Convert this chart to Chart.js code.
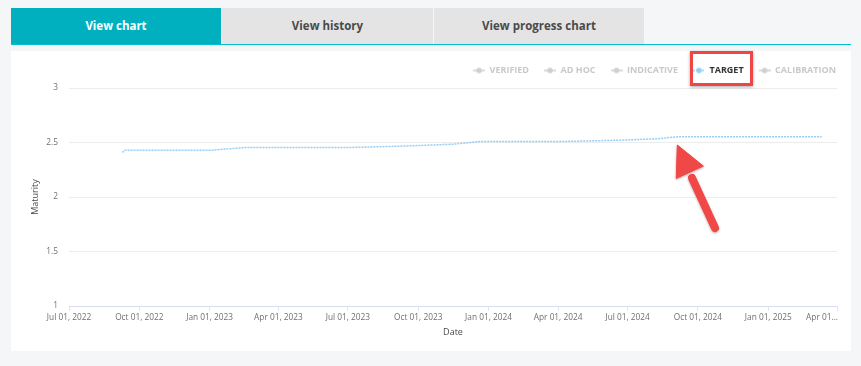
<!DOCTYPE html>
<html>
<head>
<meta charset="utf-8">
<script src="https://cdn.jsdelivr.net/npm/chart.js@4.4.1/dist/chart.umd.min.js"></script>
<style>
  html, body { margin: 0; padding: 0; }
  body { width: 861px; height: 366px; background: #f5f6f8; position: relative; overflow: hidden; font-family: "Open Sans", sans-serif; }
  .tab { position: absolute; top: 8px; height: 36px; line-height: 36px; text-align: center; font-size: 11.5px; font-weight: 700; color: #4a4a4a; background: #e4e4e4; }
  .tab.active { background: #00b0bf; color: #ffffff; }
  #underline { position: absolute; left: 11px; top: 44px; width: 840px; height: 1px; background: #00c2d2; }
  #panel { position: absolute; left: 11px; top: 51px; width: 840px; height: 300px; background: #ffffff; }
  #panel canvas { display: block; }
  #hl { position: absolute; left: 690px; top: 51px; width: 63px; height: 35px; box-sizing: border-box; border: 3px solid #ee4545; box-shadow: 0 1px 3px rgba(0,0,0,0.35); }
  #arrow { position: absolute; left: 0; top: 0; }
</style>
</head>
<body>
<div class="tab active" style="left:11px;width:210px;">View chart</div>
<div class="tab" style="left:222px;width:211px;">View history</div>
<div class="tab" style="left:434px;width:210px;">View progress chart</div>
<div id="underline"></div>
<div id="panel"><canvas id="c" width="840" height="300"></canvas></div>
<div id="hl"></div>
<svg id="arrow" width="861" height="366">
  <defs>
    <filter id="sh" x="-20%" y="-20%" width="140%" height="140%">
      <feDropShadow dx="0" dy="1" stdDeviation="1.2" flood-color="#000" flood-opacity="0.3"/>
    </filter>
  </defs>
  <g filter="url(#sh)" fill="#f04646" stroke="#f04646">
    <line x1="715" y1="228" x2="692" y2="178" stroke-width="8" stroke-linecap="round"/>
    <polygon points="677.3,145 703.4,166.1 676.2,178.5" stroke-width="1" stroke-linejoin="round"/>
  </g>
</svg>
<script>
// ---- data ----
const seriesNames = ["VERIFIED", "AD HOC", "INDICATIVE", "TARGET", "CALIBRATION"];
const verifiedValues = [];
const adHocValues = [];
const indicativeValues = [];
const calibrationValues = [];
const targetDates = ["2022-09-09", "2022-09-12", "2023-01-05", "2023-02-19", "2023-07-07", "2023-09-07",
                     "2023-11-15", "2023-12-21", "2024-04-07", "2024-06-21", "2024-08-08", "2024-09-04", "2025-03-12"];
const targetValues = [2.409, 2.430, 2.430, 2.455, 2.455, 2.466,
                      2.484, 2.509, 2.509, 2.521, 2.534, 2.552, 2.552];
const xTickDates = ["2022-07-01", "2022-10-01", "2023-01-01", "2023-04-01", "2023-07-01", "2023-10-01",
                    "2024-01-01", "2024-04-01", "2024-07-01", "2024-10-01", "2025-01-01", "2025-04-01"];
const xTickLabels = ["Jul 01, 2022", "Oct 01, 2022", "Jan 01, 2023", "Apr 01, 2023", "Jul 01, 2023", "Oct 01, 2023",
                     "Jan 01, 2024", "Apr 01, 2024", "Jul 01, 2024", "Oct 01, 2024", "Jan 01, 2025", "Apr 01..."];
const yTickValues = [1, 1.5, 2, 2.5, 3];
const yTickLabels = ["1", "1.5", "2", "2.5", "3"];

// ---- helpers ----
const origin = Date.UTC(2022, 6, 1);
function dayOf(s) { const p = s.split("-").map(Number); return (Date.UTC(p[0], p[1] - 1, p[2]) - origin) / 86400000; }
const xTickDays = xTickDates.map(dayOf);

const greyMarkerColor = "#cfcfcf";
const targetColor = "rgba(125,192,240,0.8)";

function makeMarker(lineColor, dotColor, dashed) {
  const c = document.createElement("canvas");
  c.width = 12; c.height = 8;
  const g = c.getContext("2d");
  g.strokeStyle = lineColor; g.lineWidth = 1.5;
  if (dashed) g.setLineDash([2, 1]);
  g.beginPath(); g.moveTo(0, 4); g.lineTo(12, 4); g.stroke();
  g.setLineDash([]);
  g.fillStyle = dotColor;
  g.beginPath(); g.arc(6, 4, 2.8, 0, Math.PI * 2); g.fill();
  return c;
}
const greyMarker = makeMarker(greyMarkerColor, greyMarkerColor, false);
const targetMarker = makeMarker("rgba(140,200,240,0.9)", "#92cff5", true);

const emptySeries = [verifiedValues, adHocValues, indicativeValues, null, calibrationValues];
const datasets = seriesNames.map((name, i) => {
  if (name === "TARGET") {
    return {
      label: name,
      data: targetDates.map((d, k) => ({ x: dayOf(d), y: targetValues[k] })),
      borderColor: targetColor,
      backgroundColor: targetColor,
      borderWidth: 1.5,
      borderDash: [2, 1],
      pointRadius: 0,
      tension: 0,
      fill: false
    };
  }
  return { label: name, data: emptySeries[i], hidden: true, borderColor: greyMarkerColor, pointRadius: 0 };
});

const tweaks = {
  id: "tweaks",
  afterLayout(chart) {
    if (chart.legend) { chart.legend.top -= 3; chart.legend.bottom -= 3; }
  },
  beforeDraw(chart) {
    const items = chart.scales.x.getLabelItems();
    const last = items[items.length - 1];
    if (last) {
      last.options.textAlign = "right";
      last.options.translation = [last.options.translation[0] + 1, last.options.translation[1]];
    }
  }
};

new Chart(document.getElementById("c"), {
  type: "line",
  data: { datasets },
  plugins: [tweaks],
  options: {
    responsive: false,
    animation: false,
    events: [],
    layout: { padding: { left: 0, right: 0, top: 0, bottom: 0 } },
    plugins: {
      tooltip: { enabled: false },
      legend: {
        position: "top",
        align: "end",
        labels: {
          usePointStyle: true,
          pointStyleWidth: 12,
          padding: 15,
          font: { family: "Open Sans", size: 9, weight: "bold" },
          generateLabels(chart) {
            return chart.data.datasets.map((ds, i) => ({
              text: ds.label,
              datasetIndex: i,
              hidden: false,
              lineWidth: 0,
              fillStyle: "rgba(0,0,0,0)",
              strokeStyle: "rgba(0,0,0,0)",
              pointStyle: ds.label === "TARGET" ? targetMarker : greyMarker,
              fontColor: ds.label === "TARGET" ? "#333333" : "#c9c9c9"
            }));
          }
        }
      }
    },
    scales: {
      x: {
        type: "linear",
        min: xTickDays[0],
        max: xTickDays[xTickDays.length - 1],
        afterBuildTicks(scale) { scale.ticks = xTickDays.map(v => ({ value: v })); },
        afterFit(scale) { scale.height = 45; scale.paddingRight = 14; },
        ticks: {
          autoSkip: false,
          maxRotation: 0,
          padding: 2,
          color: "#6f6f6f",
          font: { family: "Open Sans", size: 8.3 },
          callback(value) { const i = xTickDays.indexOf(value); return i >= 0 ? xTickLabels[i] : ""; }
        },
        grid: { drawOnChartArea: false, drawTicks: true, tickLength: 5, color: "#dfe5f3" },
        border: { display: true, color: "#d6def0" },
        title: { display: true, text: "Date", color: "#4a4a4a", font: { family: "Open Sans", size: 9 }, padding: { top: 4, bottom: 13 } }
      },
      y: {
        min: yTickValues[0],
        max: yTickValues[yTickValues.length - 1],
        afterBuildTicks(scale) { scale.ticks = yTickValues.map(v => ({ value: v })); },
        afterFit(scale) { scale.width = 58; scale.paddingTop = 37; },
        ticks: {
          padding: 11,
          color: "#6f6f6f",
          font: { family: "Open Sans", size: 8.3 },
          callback(value) { const i = yTickValues.indexOf(value); return i >= 0 ? yTickLabels[i] : ""; }
        },
        grid: { drawTicks: false, color: "#ececec" },
        border: { display: false },
        title: { display: true, text: "Maturity", color: "#4a4a4a", font: { family: "Open Sans", size: 9 }, padding: { top: 18.6, bottom: 0 } }
      }
    }
  }
});
</script>
</body>
</html>
